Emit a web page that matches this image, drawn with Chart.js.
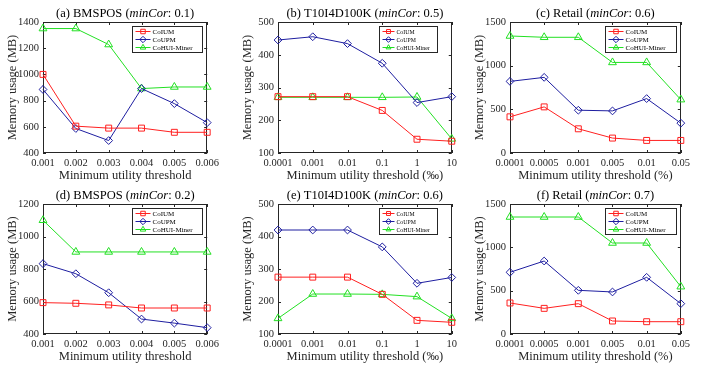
<!DOCTYPE html>
<html>
<head>
<meta charset="utf-8">
<script src="https://cdn.jsdelivr.net/npm/chart.js@4.4.0/dist/chart.umd.min.js"></script>
<style>
  body { margin: 0; background: #fff; width: 709px; height: 372px; position: relative; overflow: hidden; }
  canvas { position: absolute; }
</style>
</head>
<body>
<canvas id="ga"></canvas>
<canvas id="gb"></canvas>
<canvas id="gc"></canvas>
<canvas id="gd"></canvas>
<canvas id="ge"></canvas>
<canvas id="gf"></canvas>
<script>
// ---- data ----
const seriesNames = ["CoIUM", "CoUPM", "CoHUI-Miner"];

const xBMSPOS = ["0.001", "0.002", "0.003", "0.004", "0.005", "0.006"];
const xT10 = ["0.0001", "0.001", "0.01", "0.1", "1", "10"];
const xRetail = ["0.0001", "0.0005", "0.001", "0.005", "0.01", "0.05"];

// (a) BMSPOS minCor 0.1
const coiumA = [1000, 605, 590, 590, 558, 558];
const coupmA = [885, 587, 495, 892, 777, 632];
const cohuiA = [1350, 1350, 1228, 892, 904, 904];
// (b) T10I4D100K minCor 0.5
const coiumB = [272, 272, 272, 230, 142, 136];
const coupmB = [445, 455, 434, 374, 254, 272];
const cohuiB = [270, 270, 270, 270, 271, 143];
// (c) Retail minCor 0.6
const coiumC = [414, 528, 277, 171, 144, 144];
const coupmC = [820, 866, 490, 482, 623, 342];
const cohuiC = [1340, 1325, 1325, 1037, 1037, 611];
// (d) BMSPOS minCor 0.2
const coiumD = [593, 589, 579, 560, 560, 560];
const coupmD = [833, 771, 654, 492, 467, 439];
const cohuiD = [1100, 905, 905, 905, 905, 905];
// (e) T10I4D100K minCor 0.6
const coiumE = [275, 275, 275, 222, 142, 136];
const coupmE = [420, 420, 420, 368, 256, 274];
const cohuiE = [148, 223, 223, 222, 215, 148];
// (f) Retail minCor 0.7
const coiumF = [358, 296, 350, 150, 142, 142];
const coupmF = [712, 842, 504, 485, 654, 350];
const cohuiF = [1350, 1350, 1350, 1050, 1050, 546];

const colors = ["#ff2020", "#1e1ea0", "#22e022"];
const markers = ["rect", "rectRot", "triangle"];
const markerSize = [4.2, 3.9, 4.5];

const TEXT = "#262626";
Chart.defaults.font.family = "'Liberation Serif', 'Times New Roman', serif";
Chart.defaults.color = TEXT;

// ---- panels ----
const panels = [
  { id: "ga", letter: "(a) BMSPOS", cor: "0.1", x: xBMSPOS, xTitle: "Minimum utility threshold",
    data: [coiumA, coupmA, cohuiA], yMin: 400, yMax: 1400, yStep: 200,
    rect: [43, 22, 174, 131], legend: [75, 70] },
  { id: "gb", letter: "(b) T10I4D100K", cor: "0.5", x: xT10, xTitle: "Minimum utility threshold (\u2030)",
    data: [coiumB, coupmB, cohuiB], yMin: 100, yMax: 500, yStep: 100,
    rect: [278, 22, 177, 131], legend: [73, 58] },
  { id: "gc", letter: "(c) Retail", cor: "0.6", x: xRetail, xTitle: "Minimum utility threshold (%)",
    data: [coiumC, coupmC, cohuiC], yMin: 0, yMax: 1500, yStep: 500,
    rect: [510, 22, 178, 131], legend: [76, 71] },
  { id: "gd", letter: "(d) BMSPOS", cor: "0.2", x: xBMSPOS, xTitle: "Minimum utility threshold",
    data: [coiumD, coupmD, cohuiD], yMin: 400, yMax: 1200, yStep: 200,
    rect: [43, 204, 174, 130], legend: [75, 70] },
  { id: "ge", letter: "(e) T10I4D100K", cor: "0.6", x: xT10, xTitle: "Minimum utility threshold (\u2030)",
    data: [coiumE, coupmE, cohuiE], yMin: 100, yMax: 500, yStep: 100,
    rect: [278, 204, 177, 130], legend: [73, 58] },
  { id: "gf", letter: "(f) Retail", cor: "0.7", x: xRetail, xTitle: "Minimum utility threshold (%)",
    data: [coiumF, coupmF, cohuiF], yMin: 0, yMax: 1500, yStep: 500,
    rect: [510, 204, 178, 130], legend: [76, 71] }
];

const AXIS_W = 43, AXIS_H = 38, TOP = 22, RIGHT = 6;

function drawMarker(ctx, style, x, y, r) {
  ctx.beginPath();
  if (style === "rect") {
    const s = r * Math.SQRT1_2;
    ctx.rect(x - s, y - s, 2 * s, 2 * s);
  } else if (style === "rectRot") {
    ctx.moveTo(x, y - r); ctx.lineTo(x + r, y); ctx.lineTo(x, y + r); ctx.lineTo(x - r, y); ctx.closePath();
  } else {
    ctx.moveTo(x, y - r); ctx.lineTo(x + r * 0.866, y + r * 0.5); ctx.lineTo(x - r * 0.866, y + r * 0.5); ctx.closePath();
  }
  ctx.stroke();
}

const framePlugin = {
  id: "frame",
  beforeDatasetsDraw(chart) {
    const { ctx, chartArea: a, scales } = chart;
    ctx.save();
    ctx.strokeStyle = TEXT;
    ctx.lineWidth = 1;
    ctx.strokeRect(Math.round(a.left) + 0.5, Math.round(a.top) + 0.5,
      Math.round(a.right - a.left) - 1, Math.round(a.bottom - a.top) - 1);
    ctx.beginPath();
    scales.x.ticks.forEach((t, i) => {
      const px = Math.round(scales.x.getPixelForTick(i)) + 0.5;
      ctx.moveTo(px, a.bottom); ctx.lineTo(px, a.bottom - 3);
      ctx.moveTo(px, a.top); ctx.lineTo(px, a.top + 3);
    });
    scales.y.ticks.forEach((t, i) => {
      const py = Math.round(scales.y.getPixelForTick(i)) + 0.5;
      ctx.moveTo(a.left, py); ctx.lineTo(a.left + 3, py);
      ctx.moveTo(a.right, py); ctx.lineTo(a.right - 3, py);
    });
    ctx.stroke();
    ctx.restore();
  },
  afterDraw(chart) {
    const p = chart.options.plugins.frame;
    const { ctx, chartArea: a } = chart;
    ctx.save();
    // title with italic minCor
    const fam = Chart.defaults.font.family;
    const parts = [
      { t: p.letter + " (", f: "12.5px " + fam },
      { t: "minCor", f: "italic 12.5px " + fam },
      { t: ": " + p.cor + ")", f: "12.5px " + fam }
    ];
    let w = 0;
    parts.forEach(q => { ctx.font = q.f; q.w = ctx.measureText(q.t).width; w += q.w; });
    let x = (a.left + a.right) / 2 - w / 2;
    ctx.fillStyle = "#000";
    ctx.textBaseline = "middle";
    parts.forEach(q => { ctx.font = q.f; ctx.fillText(q.t, x, a.top - 8); x += q.w; });

    // legend
    const [off, lw] = p.legend;
    const lx = Math.round(a.right - off) + 0.5, ly = Math.round(a.top + 4) + 0.5, lh = 26;
    ctx.fillStyle = "#fff";
    ctx.fillRect(lx, ly, lw, lh);
    ctx.strokeStyle = TEXT;
    ctx.lineWidth = 1;
    ctx.strokeRect(lx, ly, lw, lh);
    const small = lw < 65;
    ctx.font = (small ? "5.8px " : "7px ") + fam;
    chart.data.datasets.forEach((ds, i) => {
      const y = ly + 5 + i * 8;
      const x0 = lx + 3, x1 = lx + (small ? 15 : 18);
      ctx.strokeStyle = ds.borderColor;
      ctx.beginPath(); ctx.moveTo(x0, y); ctx.lineTo(x1, y); ctx.stroke();
      drawMarker(ctx, ds.pointStyle, (x0 + x1) / 2, y, small ? 2.8 : 3.2);
      ctx.fillStyle = "#000";
      ctx.fillText(ds.label, x1 + 2, y + 0.5);
    });
    ctx.restore();
  }
};

panels.forEach(p => {
  const [pl, pt, pw, ph] = p.rect;
  const cv = document.getElementById(p.id);
  cv.width = AXIS_W + pw + RIGHT;
  cv.height = TOP + ph + AXIS_H;
  cv.style.left = (pl - AXIS_W) + "px";
  cv.style.top = (pt - TOP) + "px";

  new Chart(cv, {
    type: "line",
    data: {
      labels: p.x,
      datasets: seriesNames.map((name, i) => ({
        label: name,
        data: p.data[i],
        borderColor: colors[i],
        backgroundColor: "rgba(0,0,0,0)",
        pointBackgroundColor: "rgba(0,0,0,0)",
        pointBorderColor: colors[i],
        pointStyle: markers[i],
        pointRadius: markerSize[i],
        pointBorderWidth: 1,
        borderWidth: 1,
        tension: 0,
        clip: false
      }))
    },
    options: {
      responsive: false,
      animation: false,
      devicePixelRatio: 1,
      layout: { padding: { top: TOP, right: RIGHT, left: 0, bottom: 0 }, autoPadding: false },
      plugins: {
        legend: { display: false },
        tooltip: { enabled: false },
        frame: { letter: p.letter, cor: p.cor, legend: p.legend }
      },
      scales: {
        x: {
          type: "category",
          offset: false,
          grid: { display: false, drawTicks: false },
          border: { display: false },
          ticks: { padding: 4, maxRotation: 0, autoSkip: false, font: { size: 10.5 }, color: TEXT },
          title: { display: true, text: p.xTitle, font: { size: 12.5 }, padding: { top: 0, bottom: 8 }, color: TEXT },
          afterFit(s) { s.height = AXIS_H; }
        },
        y: {
          min: p.yMin, max: p.yMax,
          grid: { display: false, drawTicks: false },
          border: { display: false },
          ticks: { stepSize: p.yStep, padding: 4, font: { size: 10.5 }, color: TEXT,
                   callback: v => String(v) },
          title: { display: true, text: "Memory usage (MB)", font: { size: 12.5 }, padding: { top: 5, bottom: 0 }, color: TEXT },
          afterFit(s) { s.width = AXIS_W; }
        }
      }
    },
    plugins: [framePlugin]
  });
});
</script>
</body>
</html>
